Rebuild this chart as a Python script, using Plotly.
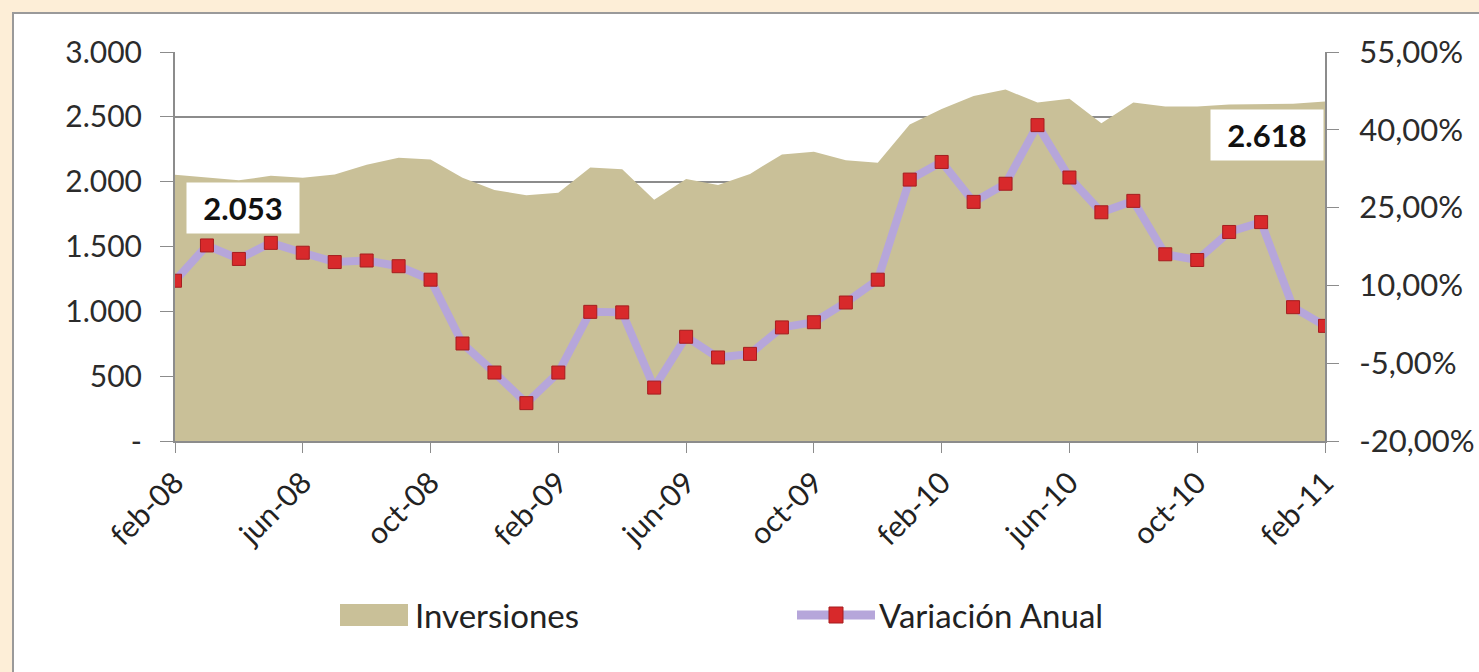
import plotly.graph_objects as go

months = ["feb-08", "mar-08", "abr-08", "may-08", "jun-08", "jul-08", "ago-08", "sep-08",
          "oct-08", "nov-08", "dic-08", "ene-09", "feb-09", "mar-09", "abr-09", "may-09",
          "jun-09", "jul-09", "ago-09", "sep-09", "oct-09", "nov-09", "dic-09", "ene-10",
          "feb-10", "mar-10", "abr-10", "may-10", "jun-10", "jul-10", "ago-10", "sep-10",
          "oct-10", "nov-10", "dic-10", "ene-11", "feb-11"]

inversiones = [2053, 2030, 2010, 2045, 2030, 2055, 2130, 2185, 2170, 2030, 1935, 1895,
               1915, 2110, 2095, 1860, 2020, 1975, 2060, 2210, 2230, 2165, 2145, 2440,
               2560, 2660, 2710, 2610, 2640, 2450, 2610, 2580, 2580, 2595, 2600, 2600, 2618]

variacion = [10.9, 17.7, 15.1, 18.2, 16.3, 14.5, 14.8, 13.7, 11.1, -1.2, -6.8, -12.7,
             -6.8, 4.9, 4.8, -9.7, 0.1, -3.9, -3.2, 1.9, 2.9, 6.7, 11.1, 30.4,
             33.8, 26.1, 29.6, 40.9, 30.8, 24.1, 26.3, 16.0, 14.9, 20.3, 22.2, 5.8, 2.2]

series_names = ["Inversiones", "Variación Anual"]
tick_months = ["feb-08", "jun-08", "oct-08", "feb-09", "jun-09", "oct-09", "feb-10",
               "jun-10", "oct-10", "feb-11"]
left_ticks = [0, 500, 1000, 1500, 2000, 2500, 3000]
left_ticktext = ["-", "500", "1.000", "1.500", "2.000", "2.500", "3.000"]
right_ticks = [-20, -5, 10, 25, 40, 55]
right_ticktext = ["-20,00%", "-5,00%", "10,00%", "25,00%", "40,00%", "55,00%"]

FONT = "Lato"
AREA = "#c9c098"
LINE = "#b6a6da"
MARK = "#d8292b"
AXC = "#8c8c8c"

fig = go.Figure()
fig.add_trace(go.Scatter(
    x=months, y=inversiones, name=series_names[0], mode="lines",
    line=dict(color=AREA, width=0), fill="tozeroy", fillcolor=AREA,
    yaxis="y", showlegend=False))
fig.add_trace(go.Scatter(
    x=months, y=variacion, name=series_names[1], mode="lines+markers",
    line=dict(color=LINE, width=8),
    marker=dict(symbol="square", size=13, color=MARK, line=dict(color="#a51d1f", width=1)),
    yaxis="y2", showlegend=False))

W, H = 1479, 672
L, R, T, B = 175, 1325, 52, 441
def px(x):
    return (x - L) / (R - L)
def py(y):
    return (B - y) / (B - T)

LEG_Y = 615
shapes = [
    dict(type="rect", xref="paper", yref="paper", layer="below",
         x0=px(13), x1=px(W + 40), y0=py(H + 40), y1=py(13),
         fillcolor="white", line=dict(color="#9a9a9a", width=2)),
    # legend swatches
    dict(type="rect", xref="paper", yref="paper", x0=px(340), x1=px(408),
         y0=py(LEG_Y + 11), y1=py(LEG_Y - 11), fillcolor=AREA, line=dict(width=0)),
    dict(type="line", xref="paper", yref="paper", x0=px(797), x1=px(875),
         y0=py(LEG_Y), y1=py(LEG_Y), line=dict(color=LINE, width=9)),
    dict(type="rect", xref="paper", yref="paper", x0=px(829), x1=px(843),
         y0=py(LEG_Y + 8), y1=py(LEG_Y - 8), fillcolor=MARK, line=dict(color="#a51d1f", width=1)),
]

annotations = [
    dict(text="<b>" + f"{inversiones[0]:,}".replace(",", ".") + "</b>",
         xref="paper", yref="paper", x=px(243), y=py(208), showarrow=False,
         xanchor="center", yanchor="middle",
         bgcolor="white", width=104, height=42, borderpad=4,
         font=dict(size=31, family=FONT, color="#111")),
    dict(text="<b>" + f"{inversiones[-1]:,}".replace(",", ".") + "</b>",
         xref="paper", yref="paper", x=px(1267), y=py(135), showarrow=False,
         xanchor="center", yanchor="middle",
         bgcolor="white", width=104, height=42, borderpad=4,
         font=dict(size=31, family=FONT, color="#111")),
    dict(text=series_names[0], xref="paper", yref="paper", x=px(413), y=py(LEG_Y),
         xanchor="left", yanchor="middle", showarrow=False,
         font=dict(size=33, family=FONT, color="#222")),
    dict(text=series_names[1], xref="paper", yref="paper", x=px(877), y=py(LEG_Y),
         xanchor="left", yanchor="middle", showarrow=False,
         font=dict(size=33, family=FONT, color="#222")),
]

fig.update_layout(
    width=W, height=H, autosize=False,
    margin=dict(l=L, r=W - R, t=T, b=H - B, pad=0, autoexpand=False),
    paper_bgcolor="#fdeed7", plot_bgcolor="white",
    font=dict(family=FONT, size=30, color="#2b2b2b"),
    showlegend=False,
    xaxis=dict(type="category", range=[0, 36], tickmode="array", tickvals=tick_months,
               ticktext=tick_months, tickangle=-45, ticks="outside", ticklen=10,
               tickcolor=AXC, showline=True, linecolor=AXC, linewidth=2, automargin=False,
               showgrid=False, tickfont=dict(size=30, family=FONT, color="#222")),
    yaxis=dict(range=[0, 3000], tickmode="array", tickvals=left_ticks, ticktext=left_ticktext,
               ticks="outside", ticklen=13, tickcolor=AXC, showline=True, automargin=False,
               linecolor=AXC, linewidth=2, showgrid=True, gridcolor=AXC,
               gridwidth=1.5, zeroline=False, ticklabelstandoff=12,
               tickfont=dict(size=30, family=FONT, color="#2b2b2b")),
    yaxis2=dict(range=[-20, 55], overlaying="y", side="right", tickmode="array",
                tickvals=right_ticks, ticktext=right_ticktext, ticks="outside", ticklen=12,
                tickcolor=AXC, showline=True, linecolor=AXC, linewidth=2, automargin=False,
                showgrid=False, zeroline=False, ticklabelstandoff=14,
                tickfont=dict(size=31, family=FONT, color="#2b2b2b")),
    shapes=shapes,
    annotations=annotations,
)

fig.write_html("out.html", config={"displayModeBar": False},
               post_script="document.body.style.margin='0';document.body.style.overflow='hidden';")
